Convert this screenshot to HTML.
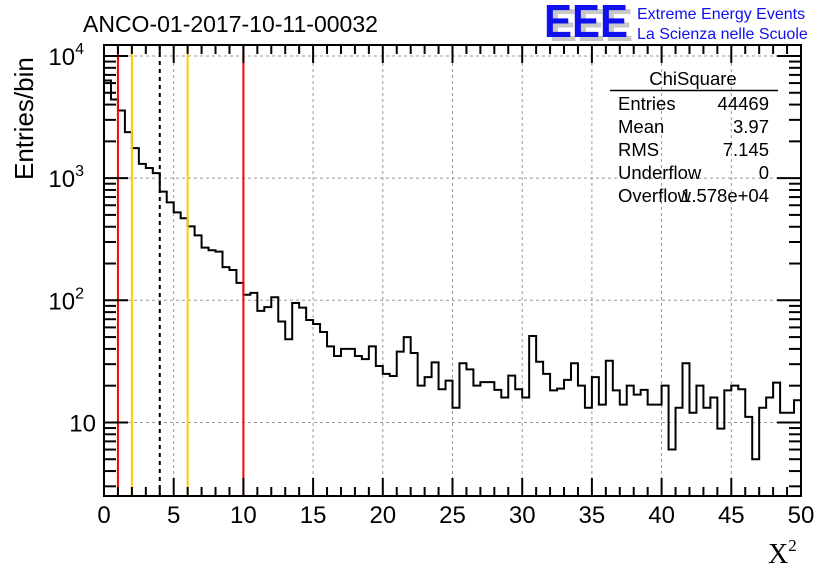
<!DOCTYPE html>
<html><head><meta charset="utf-8"><style>
body{margin:0;background:#fff}
svg{display:block;font-family:"Liberation Sans",sans-serif}
</style></head><body>
<svg id="c" width="836" height="572" viewBox="0 0 836 572" xmlns="http://www.w3.org/2000/svg">
<rect width="836" height="572" fill="#fff"/>
<g id="grid"></g>
<g id="marks"></g>
<g id="axes"></g>
<text x="83" y="32" font-size="23">ANCO-01-2017-10-11-00032</text>
<g>
<text x="549" y="41" font-size="46" font-weight="bold" fill="#c8c8c8" textLength="84" lengthAdjust="spacingAndGlyphs">EEE</text>
<text x="544" y="37" font-size="46" font-weight="bold" fill="#1010ee" textLength="84" lengthAdjust="spacingAndGlyphs">EEE</text>
<text x="637" y="19" font-size="16" fill="#1010ee">Extreme Energy Events</text>
<text x="637" y="39" font-size="16" fill="#1010ee">La Scienza nelle Scuole</text>
</g>
<g font-size="18.5">
<text x="693" y="85" text-anchor="middle">ChiSquare</text>
<line x1="610" y1="90.5" x2="778" y2="90.5" stroke="#000" stroke-width="1.5"/>
<text x="618" y="110">Entries</text><text x="769" y="110" text-anchor="end">44469</text>
<text x="618" y="133">Mean</text><text x="769" y="133" text-anchor="end">3.97</text>
<text x="618" y="156">RMS</text><text x="769" y="156" text-anchor="end">7.145</text>
<text x="618" y="179">Underflow</text><text x="769" y="179" text-anchor="end">0</text>
<text x="618" y="202">Overflow</text><text x="769" y="202" text-anchor="end">1.578e+04</text>
</g>
<text transform="translate(33,180) rotate(-90)" font-size="26">Entries/bin</text>
<text x="768" y="563" font-size="28" font-family="Liberation Serif,serif">X<tspan font-size="17" dy="-12">2</tspan></text>
</svg>
<script>
const binEdges = [0, 50];
const binWidth = 0.5;
const counts = [6300,4400,3580,2380,1760,1310,1210,1100,775,634,525,470,403,340,270,257,250,187,177,139,
111,115,82,88,106,67,48,95,87,69,64,55,42,35,40,40,35,33,42,29,25,24,38,50,37,20,23.5,31,18.7,22,
13.2,30.5,27.2,20,21.4,21.4,18.5,16,24.2,18.7,16,51,31.4,25,18.3,18.9,22.3,30.5,20,13.2,23.5,14,32,18.3,14,20,16.9,18.5,14,14,
20,6.0,13.2,30.5,12,20,13.2,16,8.9,18.3,20,18.7,11.1,5.0,13.2,16,21.2,12,12,15.2];
const cutLines = [{x:1,c:"#ff0000",d:""},{x:2,c:"#ffcc00",d:""},{x:4,c:"#000",d:"4,4"},{x:6,c:"#ffcc00",d:""},{x:10,c:"#ff0000",d:""}];
const xTicks = [0,5,10,15,20,25,30,35,40,45,50];
const yTicks = [10,100,1000,10000];
const yTickLabels = ["10","10<2>","10<3>","10<4>"];
const yRange = [2.5, 12300];

const L=104,R=801,T=45,B=496;
const NS="http://www.w3.org/2000/svg";
const X=v=>L+(v-binEdges[0])/(binEdges[1]-binEdges[0])*(R-L);
const Y=v=>B-(Math.log10(v)-Math.log10(yRange[0]))/(Math.log10(yRange[1])-Math.log10(yRange[0]))*(B-T);
function mk(tag,attrs,parent){const e=document.createElementNS(NS,tag);for(const k in attrs)e.setAttribute(k,attrs[k]);parent.appendChild(e);return e;}
const grid=document.getElementById('grid'),marks=document.getElementById('marks'),axes=document.getElementById('axes');
xTicks.forEach(t=>{if(t>0&&t<50){const l=mk('line',{x1:X(t),x2:X(t),y1:T,y2:B,stroke:'#999','stroke-dasharray':'3,3'},grid);

}});
yTicks.forEach(t=>{const l=mk('line',{x1:L,x2:R,y1:Y(t),y2:Y(t),stroke:'#999','stroke-dasharray':'3,3'},grid);

});
let d="M"+L+","+B;
counts.forEach((c,i)=>{const x0=X(binEdges[0]+i*binWidth),x1=X(binEdges[0]+(i+1)*binWidth),y=Y(c);d+=" L"+x0+","+y+" L"+x1+","+y;});
d+=" L"+R+","+B;
const h=mk('path',{d:d,fill:'none',stroke:'#000','stroke-width':2},marks);


cutLines.forEach(c=>{const l=mk('line',{x1:X(c.x),x2:X(c.x),y1:T,y2:B,stroke:c.c,'stroke-width':2,'stroke-dasharray':c.d},marks);

});
const f=mk('rect',{x:L,y:T,width:R-L,height:B-T,fill:'none',stroke:'#000','stroke-width':2},axes);


for(let v=0;v<=50;v++){const len=v%5==0?18:9;
mk('line',{x1:X(v),x2:X(v),y1:B,y2:B-len,stroke:'#000','stroke-width':2},axes);
mk('line',{x1:X(v),x2:X(v),y1:T,y2:T+len,stroke:'#000','stroke-width':2},axes);}
xTicks.forEach(t=>{const tx=mk('text',{x:X(t),y:523,'font-size':24,'text-anchor':'middle'},axes);tx.textContent=t;

});
for(let e=0;e<=4;e++)for(let m=1;m<=9;m++){const v=m*Math.pow(10,e);if(v<yRange[0]||v>yRange[1])continue;const len=m==1?24:12;
mk('line',{x1:L,x2:L+len,y1:Y(v),y2:Y(v),stroke:'#000','stroke-width':2},axes);
mk('line',{x1:R,x2:R-len,y1:Y(v),y2:Y(v),stroke:'#000','stroke-width':2},axes);}
yTicks.forEach((t,i)=>{const lab=yTickLabels[i];const tx=mk('text',{x:96,y:Y(t)+9,'font-size':24,'text-anchor':'end'},axes);
const m=lab.match(/^(\d+)<(\d)>$/);
if(m){tx.setAttribute('x',84);tx.textContent=m[1];const s=mk('tspan',{'font-size':16,dy:-11},tx);s.textContent=m[2];}
else tx.textContent=lab;

});
</script>
</body></html>
